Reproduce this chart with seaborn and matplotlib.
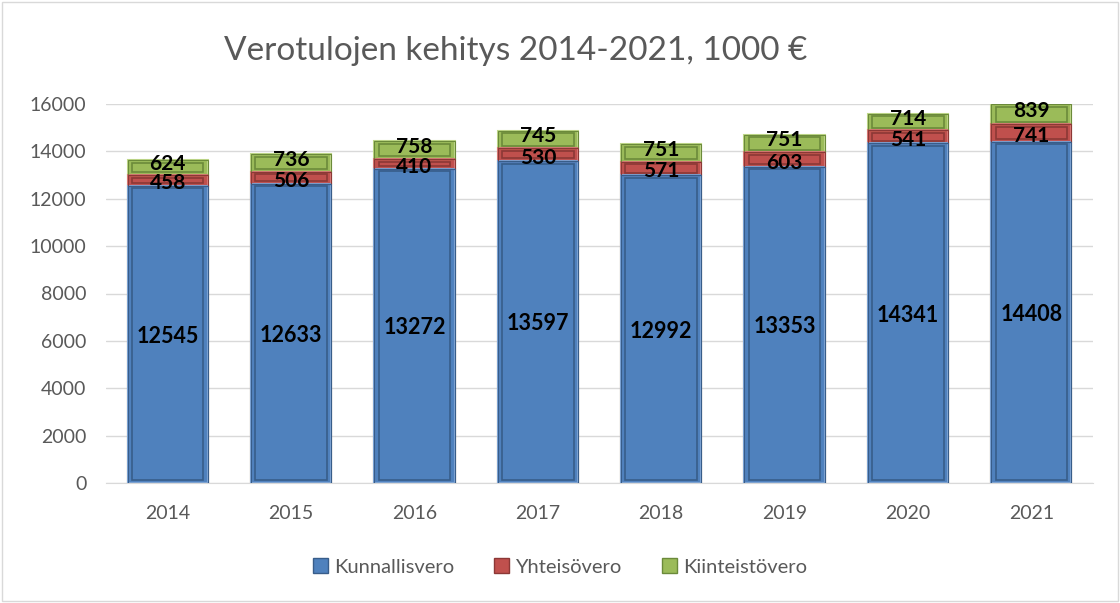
import numpy as np
import pandas as pd
import seaborn as sns
import matplotlib.pyplot as plt
from matplotlib.patches import Rectangle, Patch

years = ["2014", "2015", "2016", "2017", "2018", "2019", "2020", "2021"]
kunnallisvero = [12545, 12633, 13272, 13597, 12992, 13353, 14341, 14408]
yhteisovero = [458, 506, 410, 530, 571, 603, 541, 741]
kiinteistovero = [624, 736, 758, 745, 751, 751, 714, 839]

series = ["Kunnallisvero", "Yhteisövero", "Kiinteistövero"]
face = ["#4F81BD", "#C0504D", "#9BBB59"]
edge = ["#385D8A", "#8C3836", "#6B8A3A"]
light = ["#7FA6D6", "#DA7B78", "#BFD88A"]

sns.set_style("white")
plt.rcParams["font.family"] = ["Lato", "DejaVu Sans"]

fig = plt.figure(figsize=(11.2, 6.03), dpi=100)
ax = fig.add_axes([106 / 1120, 1 - 483 / 603, (1093 - 106) / 1120, (483 - 104) / 603])

vals = np.array([kunnallisvero, yhteisovero, kiinteistovero])
cum = np.cumsum(vals, axis=0)

# draw the stacks from the top down so each layer covers the one above
for i in [2, 1, 0]:
    df = pd.DataFrame({"year": years, "value": cum[i]})
    sns.barplot(data=df, x="year", y="value", color=face[i], saturation=1,
                width=0.65, edgecolor=light[i], linewidth=1.5, ax=ax, zorder=2)

# label nudges (data units) so the thin segments' labels sit like in the original
nudge = [0, -40, 220]

# bevel look: inner darker outline inside each segment
bars = ax.patches
for k, i in enumerate([2, 1, 0]):
    for j in range(len(years)):
        p = bars[k * len(years) + j]
        x0, w = p.get_x(), p.get_width()
        bottom = cum[i - 1][j] if i > 0 else 0
        top = cum[i][j]
        dx, dy = 0.035, 110
        ax.add_patch(Rectangle((x0 + dx, bottom + dy), w - 2 * dx, top - bottom - 2 * dy,
                               facecolor="none", edgecolor=edge[i], linewidth=1.2, zorder=3))
        ax.add_patch(Rectangle((x0, bottom), w, top - bottom, facecolor="none",
                               edgecolor=edge[i], linewidth=0.8, zorder=3))
        ax.text(j, (bottom + top) / 2 + nudge[i], str(vals[i][j]), ha="center",
                va="center_baseline", fontsize=15 if i else 15.5, fontweight="bold",
                color="black", zorder=5)

ax.set_ylim(0, 16000)
ax.set_xlim(-0.5, len(years) - 0.5)
ax.set_yticks(range(0, 16001, 2000))
ax.yaxis.grid(True, color="#D9D9D9", linewidth=1)
ax.set_axisbelow(True)
for s in ["top", "right", "left"]:
    ax.spines[s].set_visible(False)
ax.spines["bottom"].set_color("#D9D9D9")
ax.tick_params(axis="both", length=0, labelsize=14, labelcolor="#595959")
ax.tick_params(axis="y", pad=14)
ax.tick_params(axis="x", pad=16)
ax.set_xlabel("")
ax.set_ylabel("")

fig.text(0.46, 0.915, "Verotulojen kehitys 2014-2021, 1000 €", ha="center", va="center",
         fontsize=24, color="#595959")

handles = [Patch(facecolor=face[i], edgecolor=edge[i], label=series[i]) for i in range(3)]
fig.legend(handles=handles, loc="center", bbox_to_anchor=(0.5, 0.06), ncol=3, frameon=False,
           fontsize=14.5, labelcolor="#595959", handlelength=0.75, handleheight=0.75,
           handletextpad=0.3, columnspacing=2.0)

fig.patches.append(Rectangle((0.002, 0.003), 0.996, 0.994, transform=fig.transFigure,
                             fill=False, edgecolor="#D9D9D9", linewidth=1))

fig.savefig("out.png", dpi=100)
